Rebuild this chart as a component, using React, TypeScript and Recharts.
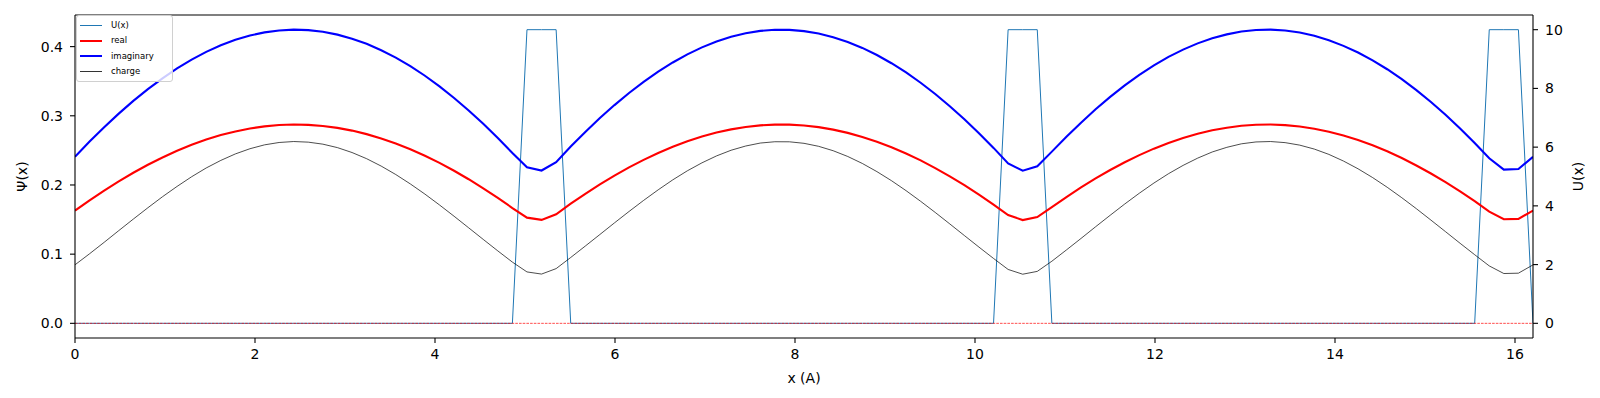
import { LineChart, Line, XAxis, YAxis, ReferenceLine } from 'recharts';

// sample positions (A)
const X_POSITIONS = [
  0, 0.162, 0.324, 0.486, 0.648, 0.81, 0.972, 1.134, 1.296, 1.458,
  1.62, 1.782, 1.944, 2.106, 2.268, 2.43, 2.592, 2.754, 2.916, 3.078,
  3.24, 3.402, 3.564, 3.726, 3.888, 4.05, 4.212, 4.374, 4.536, 4.698,
  4.86, 5.022, 5.184, 5.346, 5.508, 5.67, 5.832, 5.994, 6.156, 6.318,
  6.48, 6.642, 6.804, 6.966, 7.128, 7.29, 7.452, 7.614, 7.776, 7.938,
  8.1, 8.262, 8.424, 8.586, 8.748, 8.91, 9.072, 9.234, 9.396, 9.558,
  9.72, 9.882, 10.044, 10.206, 10.368, 10.53, 10.692, 10.854, 11.016, 11.178,
  11.34, 11.502, 11.664, 11.826, 11.988, 12.15, 12.312, 12.474, 12.636, 12.798,
  12.96, 13.122, 13.284, 13.446, 13.608, 13.77, 13.932, 14.094, 14.256, 14.418,
  14.58, 14.742, 14.904, 15.066, 15.228, 15.39, 15.552, 15.714, 15.876, 16.038,
  16.2,
];

const POTENTIAL = [
  0, 0, 0, 0, 0, 0, 0, 0, 0, 0,
  0, 0, 0, 0, 0, 0, 0, 0, 0, 0,
  0, 0, 0, 0, 0, 0, 0, 0, 0, 0,
  0, 10, 10, 10, 0, 0, 0, 0, 0, 0,
  0, 0, 0, 0, 0, 0, 0, 0, 0, 0,
  0, 0, 0, 0, 0, 0, 0, 0, 0, 0,
  0, 0, 0, 0, 10, 10, 10, 0, 0, 0,
  0, 0, 0, 0, 0, 0, 0, 0, 0, 0,
  0, 0, 0, 0, 0, 0, 0, 0, 0, 0,
  0, 0, 0, 0, 0, 0, 0, 10, 10, 10,
  0,
];

const IMAG_PART = [
  0.2408, 0.2627, 0.2834, 0.3031, 0.3215, 0.3385, 0.3542, 0.3684, 0.3812, 0.3924,
  0.4019, 0.4098, 0.416, 0.4206, 0.4234, 0.4245, 0.4238, 0.4214, 0.4173, 0.4115,
  0.404, 0.3948, 0.3841, 0.3717, 0.3579, 0.3425, 0.3258, 0.3077, 0.2884, 0.2679,
  0.2463, 0.2257, 0.2209, 0.2329, 0.2555, 0.2767, 0.2967, 0.3155, 0.333, 0.3491,
  0.3638, 0.3771, 0.3888, 0.3989, 0.4074, 0.4142, 0.4192, 0.4227, 0.4243, 0.4242,
  0.4224, 0.4189, 0.4136, 0.4067, 0.3981, 0.3878, 0.376, 0.3627, 0.3478, 0.3315,
  0.3139, 0.295, 0.2749, 0.2536, 0.2311, 0.2206, 0.227, 0.2482, 0.2697, 0.2901,
  0.3094, 0.3273, 0.3439, 0.3591, 0.3729, 0.3851, 0.3957, 0.4047, 0.4121, 0.4177,
  0.4218, 0.424, 0.4245, 0.4232, 0.4203, 0.4156, 0.4092, 0.4011, 0.3914, 0.3801,
  0.3673, 0.3529, 0.3371, 0.3199, 0.3014, 0.2817, 0.2608, 0.2385, 0.2222, 0.223,
  0.2407,
];

const REAL_PART = [
  0.163, 0.1778, 0.1919, 0.2052, 0.2177, 0.2292, 0.2398, 0.2494, 0.2581, 0.2657,
  0.2721, 0.2774, 0.2816, 0.2847, 0.2866, 0.2874, 0.2869, 0.2853, 0.2825, 0.2786,
  0.2735, 0.2673, 0.26, 0.2516, 0.2423, 0.2319, 0.2206, 0.2083, 0.1952, 0.1814,
  0.1667, 0.1528, 0.1495, 0.1577, 0.173, 0.1873, 0.2009, 0.2136, 0.2254, 0.2363,
  0.2463, 0.2553, 0.2632, 0.2701, 0.2758, 0.2804, 0.2838, 0.2862, 0.2873, 0.2872,
  0.286, 0.2836, 0.28, 0.2753, 0.2695, 0.2625, 0.2546, 0.2455, 0.2355, 0.2244,
  0.2125, 0.1997, 0.1861, 0.1717, 0.1565, 0.1493, 0.1537, 0.168, 0.1826, 0.1964,
  0.2095, 0.2216, 0.2328, 0.2431, 0.2525, 0.2607, 0.2679, 0.274, 0.279, 0.2828,
  0.2856, 0.287, 0.2874, 0.2865, 0.2845, 0.2814, 0.277, 0.2715, 0.265, 0.2573,
  0.2487, 0.2389, 0.2282, 0.2166, 0.204, 0.1907, 0.1766, 0.1615, 0.1504, 0.151,
  0.163,
];

const CHARGE = [
  0.0846, 0.1006, 0.1171, 0.134, 0.1507, 0.1671, 0.183, 0.1979, 0.2119, 0.2246,
  0.2355, 0.2449, 0.2524, 0.258, 0.2614, 0.2628, 0.2619, 0.259, 0.254, 0.2469,
  0.238, 0.2273, 0.2151, 0.2015, 0.1868, 0.1711, 0.1548, 0.1381, 0.1213, 0.1047,
  0.0885, 0.0743, 0.0712, 0.0791, 0.0952, 0.1117, 0.1284, 0.1452, 0.1617, 0.1777,
  0.193, 0.2074, 0.2205, 0.232, 0.242, 0.2502, 0.2563, 0.2606, 0.2625, 0.2624,
  0.2602, 0.2559, 0.2495, 0.2412, 0.2311, 0.2193, 0.2062, 0.1918, 0.1764, 0.1603,
  0.1437, 0.1269, 0.1102, 0.0938, 0.0779, 0.071, 0.0751, 0.0898, 0.1061, 0.1227,
  0.1396, 0.1562, 0.1725, 0.1881, 0.2028, 0.2163, 0.2283, 0.2388, 0.2477, 0.2544,
  0.2595, 0.2622, 0.2628, 0.2612, 0.2576, 0.2519, 0.2442, 0.2346, 0.2234, 0.2107,
  0.1967, 0.1816, 0.1657, 0.1492, 0.1325, 0.1157, 0.0992, 0.083, 0.072, 0.0725,
  0.0845,
];

const X_TICKS = [0, 2, 4, 6, 8, 10, 12, 14, 16];
const PSI_TICKS = [0, 0.1, 0.2, 0.3, 0.4];
const U_TICKS = [0, 2, 4, 6, 8, 10];

const X_DOMAIN = [0, 16.2];
const PSI_DOMAIN = [-0.0212, 0.4457];
const U_DOMAIN = [-0.5, 10.5];

const SERIES = [
  { key: 'u', name: 'U(x)', color: '#1f77b4', width: 1, axis: 'right' },
  { key: 'real', name: 'real', color: '#ff0000', width: 2.1, axis: 'left' },
  { key: 'imag', name: 'imaginary', color: '#0000ff', width: 2.1, axis: 'left' },
  { key: 'charge', name: 'charge', color: '#000000', width: 0.7, axis: 'left' },
];

const data = X_POSITIONS.map((x, i) => ({
  x,
  u: POTENTIAL[i],
  real: REAL_PART[i],
  imag: IMAG_PART[i],
  charge: CHARGE[i],
}));

const tickStyle = { fontSize: 14, fill: '#000' };
const lineStyle = { stroke: '#000', strokeWidth: 1.1 };

function yTitle(text: string, dx: number) {
  return (props: any) => {
    const vb = props.viewBox;
    const x = vb.x + dx;
    const y = vb.y + vb.height / 2;
    return (
      <text
        x={x}
        y={y}
        transform={`rotate(-90 ${x} ${y})`}
        textAnchor="middle"
        dominantBaseline="central"
        fontSize={14}
        fill="#000"
      >
        {text}
      </text>
    );
  };
}

function LegendBox() {
  return (
    <div
      style={{
        position: 'absolute',
        left: 76,
        top: 15,
        width: 95,
        padding: '2px 0',
        border: '1px solid #d0d0d0',
        borderRadius: 3,
        background: 'rgba(255,255,255,0.8)',
        fontSize: 8.5,
        lineHeight: '15.3px',
      }}
    >
      {SERIES.map((s) => (
        <div key={s.key} style={{ display: 'flex', alignItems: 'center', height: 15.3 }}>
          <span
            style={{
              display: 'inline-block',
              width: 22,
              marginLeft: 3,
              marginRight: 9,
              height: 0,
              borderTop: `${s.width > 2 ? 2 : 1}px solid ${s.color}`,
              opacity: s.key === 'charge' ? 0.8 : 1,
            }}
          />
          <span>{s.name}</span>
        </div>
      ))}
    </div>
  );
}

export default function App() {
  return (
    <div
      style={{
        position: 'absolute',
        left: 0,
        top: 0,
        width: 1600,
        height: 398,
        fontFamily: 'DejaVu Sans, sans-serif',
        background: '#fff',
      }}
    >
      <LineChart width={1600} height={398} data={data} margin={{ top: 15, right: 0, bottom: 0, left: 0 }}>
        <XAxis
          dataKey="x"
          type="number"
          domain={X_DOMAIN}
          ticks={X_TICKS}
          allowDataOverflow
          interval={0}
          height={60}
          tickSize={5}
          tickMargin={6}
          tick={tickStyle}
          axisLine={lineStyle}
          tickLine={lineStyle}
          label={{ value: 'x (A)', position: 'insideBottom', offset: 15, fontSize: 14, fill: '#000' }}
        />
        <YAxis
          yAxisId="left"
          type="number"
          domain={PSI_DOMAIN}
          ticks={PSI_TICKS}
          allowDataOverflow
          interval={0}
          width={75}
          tickSize={5}
          tickMargin={7}
          tick={tickStyle}
          tickFormatter={(v: number) => v.toFixed(1)}
          axisLine={lineStyle}
          tickLine={lineStyle}
          label={yTitle('Ψ(x)', 21.5)}
        />
        <YAxis
          yAxisId="right"
          orientation="right"
          type="number"
          domain={U_DOMAIN}
          ticks={U_TICKS}
          allowDataOverflow
          interval={0}
          width={67}
          tickSize={5}
          tickMargin={7}
          tick={tickStyle}
          axisLine={lineStyle}
          tickLine={lineStyle}
          label={yTitle('U(x)', 44.5)}
        />
        <ReferenceLine yAxisId="left" y={PSI_DOMAIN[1]} stroke="#000" strokeWidth={1.1} />
        {SERIES.map((s) => (
          <Line
            key={s.key}
            yAxisId={s.axis}
            dataKey={s.key}
            name={s.name}
            type="linear"
            stroke={s.color}
            strokeWidth={s.width}
            dot={false}
            activeDot={false}
            isAnimationActive={false}
          />
        ))}
        <ReferenceLine yAxisId="left" y={0} stroke="#ff0000" strokeWidth={0.7} strokeDasharray="2.6 1.1" />
      </LineChart>
      <LegendBox />
    </div>
  );
}
